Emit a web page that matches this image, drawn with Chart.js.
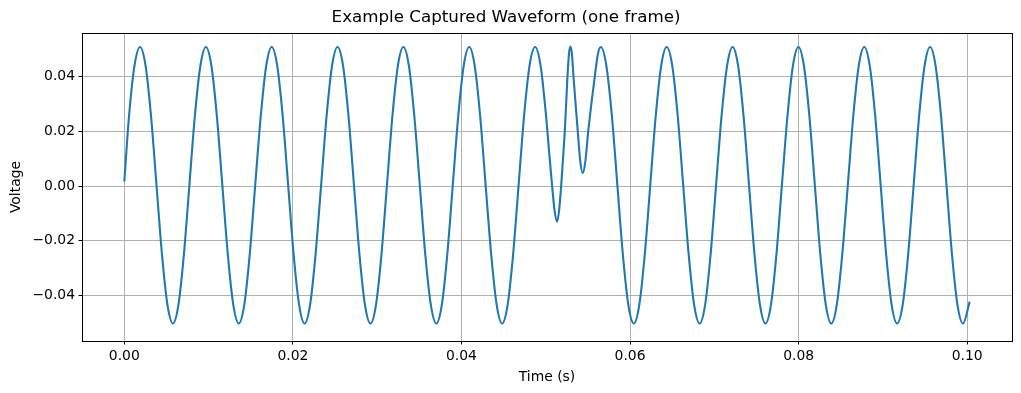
<!DOCTYPE html>
<html>
<head>
<meta charset="utf-8">
<script src="https://cdn.jsdelivr.net/npm/chart.js@4.4.1/dist/chart.umd.min.js"></script>
<style>
    html, body { margin: 0; padding: 0; background: #ffffff; }
    #wrap { width: 1021px; height: 393px; }
</style>
</head>
<body>
<div id="wrap"><canvas id="PlotCanvas" width="1021" height="393"></canvas></div>
<script>
// time axis (s)
var timeS = [
    0, 0.00056, 0.00121,
    0.00187, 0.00252, 0.00317, 0.00382, 0.00447, 0.00512, 0.00577, 0.00642, 0.00707, 0.00772, 0.00837, 0.00903,
    0.00968, 0.01033, 0.01098, 0.01163, 0.01228, 0.01293, 0.01358, 0.01423, 0.01488, 0.01553, 0.01619, 0.01684,
    0.01749, 0.01814, 0.01879, 0.01944, 0.02009, 0.02074, 0.02139, 0.02204, 0.02269, 0.02335, 0.02400, 0.02465,
    0.02530, 0.02595, 0.02660, 0.02725, 0.02790, 0.02855, 0.02921, 0.02986, 0.03051, 0.03116, 0.03181, 0.03246,
    0.03311, 0.03376, 0.03441, 0.03506, 0.03571, 0.03637, 0.03702, 0.03767, 0.03832, 0.03897, 0.03962, 0.04027,
    0.04092, 0.04157, 0.04222, 0.04287, 0.04353, 0.04418, 0.04483, 0.04548, 0.04613, 0.04678, 0.04743, 0.04808,
    0.04874, 0.04939, 0.05004, 0.05040, 0.05076, 0.05105, 0.05135, 0.05160, 0.05183, 0.05205, 0.05226, 0.05258,
    0.05276, 0.05293, 0.05311, 0.05329, 0.05380, 0.05410, 0.05439, 0.05470, 0.05504, 0.05582, 0.05620,
    0.05654, 0.05719, 0.05785, 0.05850, 0.05915, 0.05980, 0.06045, 0.06110, 0.06175, 0.06240, 0.06305, 0.06370,
    0.06435, 0.06501, 0.06566, 0.06631, 0.06696, 0.06761, 0.06826, 0.06891, 0.06956, 0.07021, 0.07086, 0.07152,
    0.07217, 0.07282, 0.07347, 0.07412, 0.07477, 0.07542, 0.07607, 0.07672, 0.07737, 0.07802, 0.07868, 0.07933,
    0.07998, 0.08063, 0.08128, 0.08193, 0.08258, 0.08323, 0.08388, 0.08453, 0.08518, 0.08584, 0.08649, 0.08714,
    0.08779, 0.08844, 0.08909, 0.08974, 0.09039, 0.09104, 0.09169, 0.09235, 0.09300, 0.09365, 0.09430, 0.09495,
    0.09560, 0.09625, 0.09690, 0.09755, 0.09820, 0.09885, 0.09951, 0.10030
];

// voltage at each time above
var voltage = [
    0.0016, 0.0256, 0.0440,
    0.0508, 0.0440, 0.0256, 0.0003, -0.0250, -0.0434, -0.0502, -0.0434, -0.0250, 0.0003, 0.0256, 0.0440,
    0.0508, 0.0440, 0.0256, 0.0003, -0.0250, -0.0434, -0.0502, -0.0434, -0.0250, 0.0003, 0.0256, 0.0440,
    0.0508, 0.0440, 0.0256, 0.0003, -0.0250, -0.0434, -0.0502, -0.0434, -0.0250, 0.0003, 0.0256, 0.0440,
    0.0508, 0.0440, 0.0256, 0.0003, -0.0250, -0.0434, -0.0502, -0.0434, -0.0250, 0.0003, 0.0256, 0.0440,
    0.0508, 0.0440, 0.0256, 0.0003, -0.0250, -0.0434, -0.0502, -0.0434, -0.0250, 0.0003, 0.0256, 0.0440,
    0.0508, 0.0440, 0.0256, 0.0003, -0.0250, -0.0434, -0.0502, -0.0434, -0.0250, 0.0003, 0.0256, 0.0440,
    0.0508, 0.0440, 0.0256, 0.0125, 0.0000, -0.0090, -0.0130, -0.0085, 0.0000, 0.0100, 0.0200, 0.0400,
    0.0485, 0.0510, 0.0482, 0.0400, 0.0200, 0.0090, 0.0047, 0.0090, 0.0200, 0.0400, 0.0484,
    0.0508, 0.0440, 0.0256, 0.0003, -0.0250, -0.0434, -0.0502, -0.0434, -0.0250, 0.0003, 0.0256, 0.0440,
    0.0508, 0.0440, 0.0256, 0.0003, -0.0250, -0.0434, -0.0502, -0.0434, -0.0250, 0.0003, 0.0256, 0.0440,
    0.0508, 0.0440, 0.0256, 0.0003, -0.0250, -0.0434, -0.0502, -0.0434, -0.0250, 0.0003, 0.0256, 0.0440,
    0.0508, 0.0440, 0.0256, 0.0003, -0.0250, -0.0434, -0.0502, -0.0434, -0.0250, 0.0003, 0.0256, 0.0440,
    0.0508, 0.0440, 0.0256, 0.0003, -0.0250, -0.0434, -0.0502, -0.0434, -0.0250, 0.0003, 0.0256, 0.0440,
    0.0508, 0.0440, 0.0256, 0.0003, -0.0250, -0.0434, -0.0502, -0.0422
];

var xTicks = [0, 0.02, 0.04, 0.06, 0.08, 0.10];
var yTicks = [-0.04, -0.02, 0, 0.02, 0.04];

var fontFamily = "'DejaVu Sans', sans-serif";

function tickText(value) {
    return value.toFixed(2).replace('-', '\u2212');
}

// black box around the plot area, like the matplotlib spines
var framePlugin = {
    id: 'frame',
    afterDraw: function (chart) {
        var a = chart.chartArea;
        var ctx = chart.ctx;
        ctx.save();
        ctx.strokeStyle = '#000000';
        ctx.lineWidth = 1;
        ctx.strokeRect(Math.round(a.left) + 0.5, Math.round(a.top) + 0.5,
            Math.round(a.right) - Math.round(a.left), Math.round(a.bottom) - Math.round(a.top));
        ctx.restore();
    }
};

function showWaveform() {
    var ctx = document.getElementById('PlotCanvas').getContext('2d');
    var data = {
        datasets: [{
            label: 'Voltage',
            borderColor: '#1f77b4',
            borderWidth: 2.1,
            pointRadius: 0,
            cubicInterpolationMode: 'monotone',
            data: timeS.map((t, i) => ({ x: t, y: voltage[i] }))
        }]
    };
    var options = {
        responsive: false,
        animation: false,
        devicePixelRatio: 1,
        layout: { padding: { left: 0, right: 9, top: 0, bottom: 0 } },
        plugins: {
            legend: { display: false },
            tooltip: { enabled: false },
            title: {
                display: true,
                text: 'Example Captured Waveform (one frame)',
                color: '#000000',
                font: { family: fontFamily, size: 16.7, weight: 'normal' },
                padding: { top: 8, bottom: 5 }
            }
        },
        scales: {
            x: {
                type: 'linear',
                position: 'bottom',
                min: -0.00502,
                max: 0.10532,
                afterBuildTicks: function (scale) {
                    scale.ticks = xTicks.map(v => ({ value: v }));
                },
                afterFit: function (scale) {
                    scale.height = 52;
                },
                ticks: {
                    autoSkip: false,
                    maxRotation: 0,
                    color: '#000000',
                    padding: 3.5,
                    font: { family: fontFamily, size: 13.9 },
                    callback: function (value) { return tickText(value); }
                },
                grid: {
                    color: '#b0b0b0',
                    lineWidth: 1,
                    tickColor: '#000000',
                    tickLength: 3.5,
                    tickWidth: 1
                },
                border: { display: false },
                title: {
                    display: true,
                    text: 'Time (s)',
                    color: '#000000',
                    font: { family: fontFamily, size: 13.9 },
                    padding: { top: 0, bottom: 7.7 }
                }
            },
            y: {
                type: 'linear',
                position: 'left',
                min: -0.0566,
                max: 0.0559,
                afterBuildTicks: function (scale) {
                    scale.ticks = yTicks.map(v => ({ value: v }));
                },
                afterFit: function (scale) {
                    scale.width = 82;
                },
                ticks: {
                    color: '#000000',
                    padding: 3.5,
                    font: { family: fontFamily, size: 13.9 },
                    callback: function (value) { return tickText(value); }
                },
                grid: {
                    color: '#b0b0b0',
                    lineWidth: 1,
                    tickColor: '#000000',
                    tickLength: 3.5,
                    tickWidth: 1
                },
                border: { display: false },
                title: {
                    display: true,
                    text: 'Voltage',
                    color: '#000000',
                    font: { family: fontFamily, size: 13.9 },
                    padding: { top: 8, bottom: 0 }
                }
            }
        }
    };
    new Chart(ctx, {
        type: 'line',
        data: data,
        options: options,
        plugins: [framePlugin]
    });
}

showWaveform();
</script>
</body>
</html>
